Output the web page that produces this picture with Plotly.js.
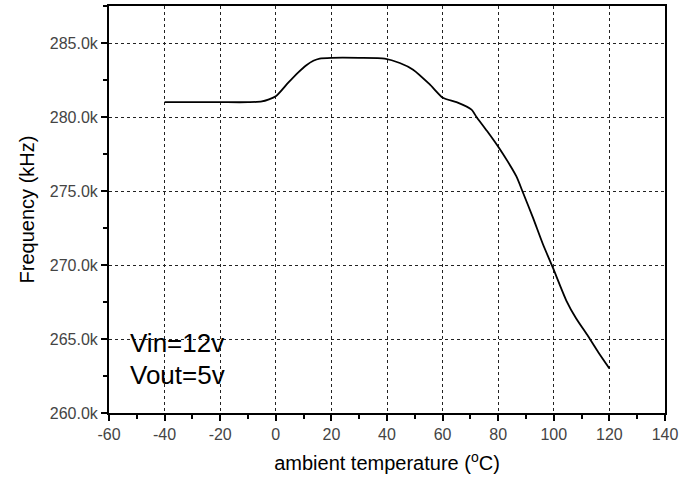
<!DOCTYPE html>
<html>
<head>
<meta charset="utf-8">
<script src="https://cdn.plot.ly/plotly-3.0.1.min.js"></script>
<style>html,body{margin:0;padding:0;background:#fff;}#chart{width:695px;height:485px;}</style>
</head>
<body>
<div id="chart"></div>
<script>
// ambient temperature (°C)
const temperature = [-40, -30, -20, -10, -5, 0, 4.4, 8, 11, 13.5, 15.8, 20, 30, 39.2, 44.6, 49.4, 55.4, 60.1, 65, 70.4, 72.2, 76, 80.5, 86.5, 88.9, 92.5, 96.1, 99.7, 104.5, 108, 112.3, 116, 120];
// frequency (Hz)
const frequency = [281000, 281000, 281000, 281000, 281050, 281400, 282300, 283000, 283500, 283800, 283950, 284000, 284000, 283950, 283650, 283200, 282200, 281300, 281000, 280500, 280000, 279050, 277850, 276000, 274900, 273200, 271400, 269800, 267600, 266400, 265200, 264100, 263000];
const xTicks = [-60, -40, -20, 0, 20, 40, 60, 80, 100, 120, 140];
const yTicks = [260000, 265000, 270000, 275000, 280000, 285000];
const noteLines = ["Vin=12v", "Vout=5v"];
const noteY = [264750, 262600];

const font = "Liberation Sans, Arial, sans-serif";
const trace = {
  x: temperature, y: frequency, type: "scatter", mode: "lines",
  line: {color: "#000", width: 1.8, shape: "spline", smoothing: 0.6},
  hoverinfo: "skip", showlegend: false
};
const axisCommon = {
  showline: true, linecolor: "#000", linewidth: 2, mirror: true,
  ticks: "outside", ticklen: 6, tickwidth: 2, tickcolor: "#000",
  showgrid: true, gridcolor: "#222", griddash: "3px,3px", gridwidth: 1,
  zeroline: false,
  tickfont: {family: font, size: 16, color: "#444"}
};
const layout = {
  width: 695, height: 485,
  margin: {l: 109, r: 30, t: 6, b: 72},
  paper_bgcolor: "#fff", plot_bgcolor: "#fff",
  font: {family: font, color: "#000"},
  xaxis: Object.assign({}, axisCommon, {
    range: [-60, 140], tickvals: xTicks,
    ticktext: xTicks.map(v => String(v)),
    minor: {dtick: 10, tick0: -60, ticks: "outside", ticklen: 4, tickwidth: 2, tickcolor: "#000", showgrid: false},
    title: {text: "ambient temperature (<sup>o</sup>C)", font: {family: font, size: 20, color: "#000"}, standoff: 14}
  }),
  yaxis: Object.assign({}, axisCommon, {
    range: [260000, 287500], tickvals: yTicks, tickformat: ".4s",
    minor: {dtick: 2500, tick0: 260000, ticks: "outside", ticklen: 4, tickwidth: 2, tickcolor: "#000", showgrid: false},
    title: {text: "Frequency (kHz)", font: {family: font, size: 20, color: "#000"}, standoff: 10}
  }),
  annotations: noteLines.map((t, i) => ({
    xref: "x", yref: "y", x: -53, y: noteY[i], xanchor: "left", yanchor: "middle",
    text: t, showarrow: false, align: "left",
    font: {family: font, size: 26, color: "#000"}
  }))
};
Plotly.newPlot("chart", [trace], layout, {displayModeBar: false, staticPlot: true});
</script>
</body>
</html>
